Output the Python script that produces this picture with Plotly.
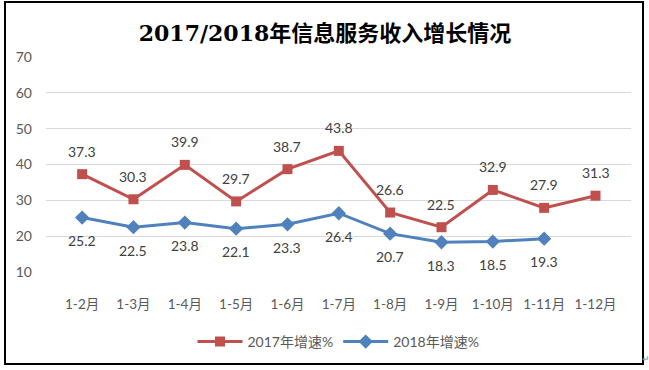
import plotly.graph_objects as go

categories = ["1-2月", "1-3月", "1-4月", "1-5月", "1-6月", "1-7月", "1-8月", "1-9月", "1-10月", "1-11月", "1-12月"]
growth_2017 = [37.3, 30.3, 39.9, 29.7, 38.7, 43.8, 26.6, 22.5, 32.9, 27.9, 31.3]
growth_2018 = [25.2, 22.5, 23.8, 22.1, 23.3, 26.4, 20.7, 18.3, 18.5, 19.3]
series_names = ["2017年增速%", "2018年增速%"]
title_text = "2017/2018年信息服务收入增长情况"

RED = "#C0504D"
BLUE = "#4F81BD"
FONT = "Lato, Noto Sans CJK SC, sans-serif"

W, H = 649, 370

fig = go.Figure()
fig.add_trace(go.Scatter(
    x=categories, y=growth_2017, name=series_names[0], mode="lines+markers",
    line=dict(color=RED, width=3), marker=dict(symbol="square", size=10, color=RED),
))
fig.add_trace(go.Scatter(
    x=categories[:len(growth_2018)], y=growth_2018, name=series_names[1], mode="lines+markers",
    line=dict(color=BLUE, width=3), marker=dict(symbol="diamond", size=11, color=BLUE),
))

annotations = []
for c, v in zip(categories, growth_2017):
    annotations.append(dict(x=c, y=v, text=f"{v:.1f}", showarrow=False, yshift=23,
                            font=dict(size=14, color="#404040", family=FONT)))
for c, v in zip(categories, growth_2018):
    annotations.append(dict(x=c, y=v, text=f"{v:.1f}", showarrow=False, yshift=-23,
                            font=dict(size=14, color="#404040", family=FONT)))
annotations.append(dict(xref="paper", yref="paper", x=(646 - 46) / 585, y=(272 - 358) / 215,
                        xanchor="center", yanchor="middle",
                        text="↵", showarrow=False, font=dict(size=9, color="#808080")))

fig.update_layout(
    width=W, height=H,
    margin=dict(l=46, r=18, t=57, b=98),
    paper_bgcolor="white", plot_bgcolor="white",
    font=dict(family=FONT, size=13, color="#595959"),
    title=dict(text=f"<b>{title_text}</b>", x=325 / W, xanchor="center", y=1 - 33 / H, yanchor="middle",
               font=dict(family="DejaVu Serif, Noto Sans CJK SC, serif", size=22, color="black")),
    xaxis=dict(showgrid=False, showline=False, zeroline=False, ticks="",
               tickfont=dict(size=13.5, color="#595959"), ticklabelstandoff=22),
    yaxis=dict(range=[10, 70], dtick=10, showgrid=True, gridcolor="#D9D9D9", gridwidth=1,
               zeroline=False, showline=False, ticks="", ticklabelstandoff=13,
               tickfont=dict(size=14, color="#595959")),
    legend=dict(orientation="h", x=0.5, xanchor="center", y=(272 - 342) / 215, yanchor="middle",
                font=dict(size=14, color="#595959"), itemwidth=45),
    showlegend=True,
    annotations=annotations,
    shapes=[dict(type="rect", xref="paper", yref="paper",
                 x0=(5 - 46) / 585, x1=(643 - 46) / 585,
                 y0=(272 - 364) / 215, y1=(272 - 2) / 215,
                 line=dict(color="black", width=2), fillcolor="rgba(0,0,0,0)", layer="below")],
)

fig.write_html("out.html", config={"displayModeBar": False},
               post_script="document.body.style.margin='0';document.body.style.overflow='hidden';")
